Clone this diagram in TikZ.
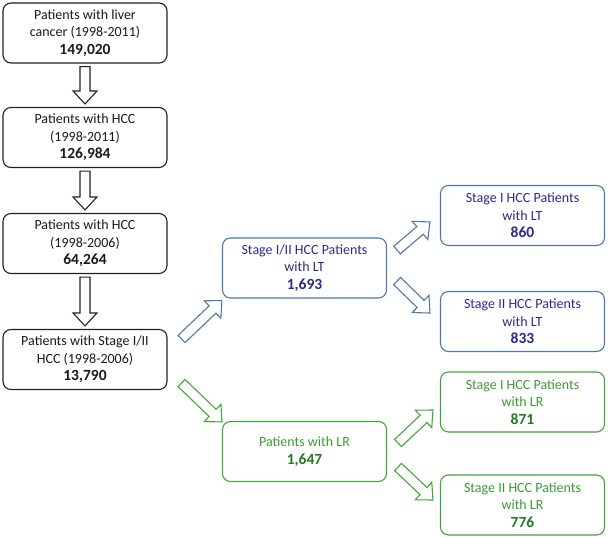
\documentclass[tikz,border=0pt]{standalone}
\usepackage{fontspec}
\setmainfont{Carlito}
\usetikzlibrary{calc}
\definecolor{kbord}{HTML}{222222}
\definecolor{ktext}{HTML}{1A1A1A}
\definecolor{bbord}{HTML}{4D78AB}
\definecolor{btext}{HTML}{2A2A8E}
\definecolor{gbord}{HTML}{44A53C}
\definecolor{gtext}{HTML}{3A9A34}
\definecolor{gnum}{HTML}{217A1E}
\newcommand\barrow[3]{%
  \coordinate (bA) at (#2);
  \coordinate (bB) at (#3);
  \coordinate (bC) at ($(bB)!13pt!(bA)$);
  \draw[#1] ($(bA)!5pt!90:(bB)$) -- ($(bC)!5pt!-90:(bA)$) -- ($(bC)!12pt!-90:(bA)$)
    -- (bB) -- ($(bC)!12pt!90:(bA)$) -- ($(bC)!5pt!90:(bA)$) -- ($(bA)!5pt!-90:(bB)$) -- cycle;
}
\tikzset{
  basebox/.style={rounded corners=8pt, minimum width=164pt, minimum height=60pt,
    align=center, line width=1.1pt, inner sep=2pt,
    font=\fontsize{14}{17.5}\selectfont},
  blackbox/.style={basebox, draw=kbord, text=ktext},
  bluebox/.style={basebox, draw=bbord, text=btext},
  greenbox/.style={basebox, draw=gbord, text=gtext},
  karrow/.style={draw=kbord, line width=1.1pt, fill=white, line join=miter},
  barr/.style={draw=bbord, line width=1.1pt, fill=white, line join=miter},
  garr/.style={draw=gbord, line width=1.1pt, fill=white, line join=miter},
}
\newcommand\numb[1]{{\fontsize{15.5}{17}\selectfont\bfseries #1}}
\begin{document}
\begin{tikzpicture}[x=1pt,y=-1pt]
\useasboundingbox (0,0) rectangle (608,538);
% left column
\node[blackbox] (b1) at (85,33) {Patients with liver\\cancer (1998-2011)\\\numb{149,020}};
\node[blackbox] (b2) at (85,137.5) {Patients with HCC\\(1998-2011)\\\numb{126,984}};
\node[blackbox] (b3) at (85,243.5) {Patients with HCC\\(1998-2006)\\\numb{64,264}};
\node[blackbox] (b4) at (85,359.5) {Patients with Stage I/II\\HCC (1998-2006)\\\numb{13,790}};
% middle
\node[bluebox] (lt) at (304.5,268) {Stage I/II HCC Patients\\with LT\\\numb{1,693}};
\node[greenbox] (lr) at (304.5,451.5) {Patients with LR\\\numb{\color{gnum}1,647}};
% right
\node[bluebox] (lt1) at (522.5,215.5) {Stage I HCC Patients\\with LT\\\numb{860}};
\node[bluebox] (lt2) at (522.5,321.5) {Stage II HCC Patients\\with LT\\\numb{833}};
\node[greenbox] (lr1) at (522.5,402) {Stage I HCC Patients\\with LR\\\numb{\color{gnum}871}};
\node[greenbox] (lr2) at (522.5,505) {Stage II HCC Patients\\with LR\\\numb{\color{gnum}776}};
% down arrows
\coordinate (d1s) at ([yshift=-3pt]b1.south);
\coordinate (d1e) at ([yshift=3pt]b2.north);
\coordinate (d2s) at ([yshift=-3pt]b2.south);
\coordinate (d2e) at ([yshift=3pt]b3.north);
\coordinate (d3s) at ([yshift=-3pt]b3.south);
\coordinate (d3e) at ([yshift=3pt]b4.north);
\barrow{karrow}{d1s}{d1e}
\barrow{karrow}{d2s}{d2e}
\barrow{karrow}{d3s}{d3e}
% diagonal arrows from b4
\coordinate (u1s) at ([shift={(14pt,20.5pt)}]b4.east);
\coordinate (u1e) at ([shift={(0pt,-2pt)}]lt.south west);
\coordinate (v1s) at ([shift={(14pt,-23.5pt)}]b4.east);
\coordinate (v1e) at ([shift={(0pt,-1pt)}]lr.north west);
\barrow{barr}{u1s}{u1e}
\barrow{garr}{v1s}{v1e}
% from LT
\coordinate (u2s) at ([shift={(10pt,18pt)}]lt.east);
\coordinate (u2e) at ([shift={(-10pt,-6.5pt)}]lt1.west);
\coordinate (v2s) at ([shift={(10pt,-13pt)}]lt.east);
\coordinate (v2e) at ([shift={(-10pt,8.5pt)}]lt2.west);
\barrow{barr}{u2s}{u2e}
\barrow{barr}{v2s}{v2e}
% from LR
\coordinate (u3s) at ([shift={(11pt,8.5pt)}]lr.east);
\coordinate (u3e) at ([shift={(-7pt,-8pt)}]lr1.west);
\coordinate (v3s) at ([shift={(11pt,-15.5pt)}]lr.east);
\coordinate (v3e) at ([shift={(-7pt,5pt)}]lr2.west);
\barrow{garr}{u3s}{u3e}
\barrow{garr}{v3s}{v3e}
\end{tikzpicture}
\end{document}
